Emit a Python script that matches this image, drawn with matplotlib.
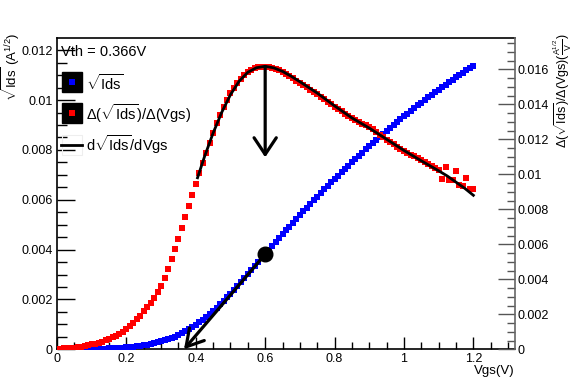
import numpy as np
import matplotlib
matplotlib.use("Agg")
import matplotlib.pyplot as plt
from matplotlib.ticker import MultipleLocator, FuncFormatter
from matplotlib.patches import Rectangle
from matplotlib.lines import Line2D

plt.rcParams['font.family'] = ['Liberation Sans', 'DejaVu Sans']
plt.rcParams['mathtext.fontset'] = 'custom'
plt.rcParams['mathtext.rm'] = 'Liberation Sans'
plt.rcParams['mathtext.it'] = 'Liberation Sans:italic'
plt.rcParams['mathtext.bf'] = 'Liberation Sans:bold'

# ---------------- data ----------------
vgs = np.round(np.arange(0, 121) * 0.01, 2)   # Vgs sampling grid 0 .. 1.2 V

sqrt_ids = [
    0.0, 0.0000004, 0.0000009, 0.0000015, 0.0000023, 0.0000033, 0.0000045, 0.000006, 0.0000079, 0.0000102,
    0.000013, 0.0000163, 0.0000201, 0.0000245, 0.0000296, 0.0000355, 0.0000423, 0.00005, 0.0000588, 0.0000688,
    0.0000802, 0.0000933, 0.0001083, 0.0001254, 0.0001447, 0.0001663, 0.0001903, 0.0002169, 0.0002463, 0.0002788,
    0.000315, 0.000356, 0.000402, 0.000454, 0.000511, 0.000574, 0.000643, 0.000719, 0.000801, 0.000889,
    0.000984, 0.001085, 0.001192, 0.001304, 0.001422, 0.001546, 0.001675, 0.001809, 0.001947, 0.00209,
    0.002236, 0.002385, 0.002537, 0.002692, 0.002849, 0.003007, 0.003167, 0.003327, 0.003488, 0.00365,
    0.003811, 0.003972, 0.004133, 0.004293, 0.004453, 0.004612, 0.00477, 0.004926, 0.005081, 0.005234,
    0.005386, 0.005537, 0.005687, 0.005835, 0.005982, 0.006128, 0.006272, 0.006415, 0.006556, 0.006696,
    0.006834, 0.006971, 0.007107, 0.007242, 0.007375, 0.007507, 0.007638, 0.007768, 0.007897, 0.008025,
    0.008152, 0.008278, 0.008402, 0.008525, 0.008646, 0.008766, 0.008884, 0.009001, 0.009117, 0.009232,
    0.009345, 0.009457, 0.009568, 0.009678, 0.009787, 0.009895, 0.010002, 0.010108, 0.010213, 0.010317,
    0.01042, 0.010517, 0.010621, 0.010718, 0.010815, 0.010917, 0.011011, 0.011104, 0.011202, 0.011293,
    0.011384,
]

dsqrt_dvgs = [
    0.00003, 0.00004, 0.00005, 0.00006, 0.00008, 0.0001, 0.00012, 0.00015, 0.00019, 0.00023,
    0.00028, 0.00033, 0.00038, 0.00044, 0.00051, 0.00059, 0.00068, 0.00077, 0.00088, 0.001,
    0.00114, 0.00131, 0.0015, 0.00171, 0.00193, 0.00216, 0.0024, 0.00266, 0.00294, 0.00325,
    0.00362, 0.0041, 0.00461, 0.00516, 0.00573, 0.00632, 0.00692, 0.00754, 0.00818, 0.00882,
    0.00945, 0.01006, 0.01066, 0.01124, 0.01181, 0.01236, 0.01292, 0.0134, 0.01384, 0.01425,
    0.01462, 0.01494, 0.01522, 0.01546, 0.01566, 0.01583, 0.01596, 0.01606, 0.01612, 0.01615,
    0.01615, 0.01613, 0.01609, 0.01603, 0.01596, 0.01587, 0.01575, 0.01562, 0.01549, 0.01535,
    0.01522, 0.01509, 0.01496, 0.01483, 0.0147, 0.01457, 0.01443, 0.01428, 0.01413, 0.01399,
    0.01385, 0.01372, 0.01359, 0.01346, 0.01333, 0.0132, 0.01309, 0.01298, 0.01288, 0.01279,
    0.0127, 0.01257, 0.01242, 0.01227, 0.01212, 0.01197, 0.01184, 0.01171, 0.01158, 0.01146,
    0.01134, 0.01123, 0.01113, 0.01103, 0.01093, 0.01083, 0.01072, 0.01061, 0.0105, 0.01038,
    0.01025, 0.00971, 0.0104, 0.00967, 0.0097, 0.01019, 0.0094, 0.00935, 0.0098, 0.00914,
    0.00914,
]

fit_x = [0.405, 0.425, 0.45, 0.475, 0.50, 0.525, 0.55, 0.575, 0.60, 0.625, 0.65, 0.675, 0.70,
         0.75, 0.80, 0.85, 0.90, 0.95, 1.00, 1.05, 1.10, 1.125, 1.15, 1.175, 1.20]
fit_y = [0.0098, 0.0110, 0.01236, 0.01355, 0.01455, 0.01532, 0.01583, 0.01609, 0.01617, 0.01608,
         0.01588, 0.01560, 0.01529, 0.01464, 0.01391, 0.01322, 0.01264, 0.01200, 0.01136, 0.01077,
         0.01020, 0.00990, 0.00955, 0.00920, 0.00880]

vth = 0.366
v_peak = 0.60
arrow_tip_right = 0.01097

# ---------------- figure ----------------
W, H = 573, 388
fig = plt.figure(figsize=(W / 100, H / 100), dpi=100)
ax = fig.add_axes([57 / W, 1 - 349.3 / H, (515 - 57) / W, (349.3 - 38.3) / H])
ax2 = ax.twinx()

ax.set_xlim(0, 1.32)
ax.set_ylim(0, 0.01248)
ax2.set_ylim(0, 0.01777)

fmt = FuncFormatter(lambda v, p: ('%g' % round(v, 6)))

ax.xaxis.set_major_locator(MultipleLocator(0.2))
ax.xaxis.set_minor_locator(MultipleLocator(0.05))
ax.yaxis.set_major_locator(MultipleLocator(0.002))
ax.yaxis.set_minor_locator(MultipleLocator(0.0005))
ax2.yaxis.set_major_locator(MultipleLocator(0.002))
ax2.yaxis.set_minor_locator(MultipleLocator(0.0005))
ax.xaxis.set_major_formatter(fmt)
ax.yaxis.set_major_formatter(fmt)
ax2.yaxis.set_major_formatter(fmt)

ax.tick_params(axis='x', which='major', direction='in', length=9, width=1, labelsize=9, pad=3, top=False)
ax.tick_params(axis='x', which='minor', direction='in', length=5, width=1, top=False)
ax.tick_params(axis='y', which='major', direction='in', length=13, width=1, labelsize=9, pad=3, right=False)
ax.tick_params(axis='y', which='minor', direction='in', length=7, width=1, right=False)
ax2.tick_params(axis='y', which='major', direction='in', length=12, width=1, labelsize=9, pad=2,
                color='#555555', left=False)
ax2.tick_params(axis='y', which='minor', direction='in', length=6, width=1, color='#555555', left=False)

for s in ['left', 'bottom', 'top']:
    ax.spines[s].set_linewidth(1.2)
    ax.spines[s].set_color('black')
ax.spines['right'].set_visible(False)
ax2.spines['left'].set_visible(False)
ax2.spines['top'].set_visible(False)
ax2.spines['bottom'].set_visible(False)
ax2.spines['right'].set_color('#666666')
ax2.spines['right'].set_linewidth(1.2)

# data
ax.plot(vgs, sqrt_ids, 's', color='#0000ff', ms=4.2, mec='#0000ff', mew=0, zorder=3)
ax2.plot(vgs, dsqrt_dvgs, 's', color='#ff0000', ms=4.2, mec='#ff0000', mew=0, zorder=3)
ax2.plot(fit_x, fit_y, '-', color='black', lw=2.0, zorder=4)

# tangent point and arrows
i_pk = int(np.argmin(np.abs(vgs - v_peak)))
ax.plot([vgs[i_pk]], [sqrt_ids[i_pk]], 'o', color='black', ms=10.5, zorder=6)
ax.annotate('', xy=(vth, 0), xytext=(vgs[i_pk], sqrt_ids[i_pk]),
            arrowprops=dict(arrowstyle='->,head_length=0.6,head_width=0.35', lw=2.3,
                            color='black', mutation_scale=20, shrinkA=0, shrinkB=0),
            zorder=6, annotation_clip=False)
ax2.annotate('', xy=(vgs[i_pk], arrow_tip_right), xytext=(vgs[i_pk], dsqrt_dvgs[i_pk]),
             arrowprops=dict(arrowstyle='->,head_length=0.6,head_width=0.4', lw=2.3,
                             color='black', mutation_scale=20, shrinkA=0, shrinkB=0),
             zorder=6)

# labels
sq = r'$\sqrt{\mathrm{Ids}}$'
fig.text(11 / W, 1 - 33 / H, sq + r' (A$^{1/2}$)', rotation=90, ha='center', va='top', fontsize=9.5)
fig.text(563 / W, 1 - 33 / H, r'$\Delta$(' + sq + r')/$\Delta$(Vgs)($\frac{\mathrm{A}^{1/2}}{\mathrm{V}}$)',
         rotation=90, ha='center', va='top', fontsize=9)
fig.text(515 / W, 1 - 371 / H, 'Vgs(V)', ha='right', va='center', fontsize=9.5)

# legend (drawn manually, ROOT style)
fig.text(61 / W, 1 - 52 / H, 'Vth = 0.366V', ha='left', va='center', fontsize=10.5)
tf = fig.transFigure
fig.patches.append(Rectangle((62 / W, 1 - 92 / H), 20 / W, 20 / H, transform=tf, facecolor='black',
                             edgecolor='black', zorder=5))
fig.patches.append(Rectangle((62 / W, 1 - 123 / H), 20 / W, 20 / H, transform=tf, facecolor='black',
                             edgecolor='black', zorder=5))
fig.patches.append(Rectangle((62 / W, 1 - 155 / H), 20 / W, 20 / H, transform=tf, facecolor='none',
                             edgecolor='#eeeeee', lw=0.8, zorder=5))
fig.lines.append(Line2D([72 / W], [1 - 82 / H], transform=tf, marker='s', color='#0000ff', ms=4.2, mew=0, zorder=6))
fig.lines.append(Line2D([72 / W], [1 - 113 / H], transform=tf, marker='s', color='#ff0000', ms=4.2, mew=0, zorder=6))
fig.lines.append(Line2D([61 / W, 82 / W], [1 - 145 / H, 1 - 145 / H], transform=tf, color='black', lw=2.0, zorder=6))
fig.text(86 / W, 1 - 83 / H, sq, ha='left', va='center', fontsize=10.5)
fig.text(86 / W, 1 - 114 / H, r'$\Delta$(' + sq + r')/$\Delta$(Vgs)', ha='left', va='center', fontsize=10.5)
fig.text(86 / W, 1 - 145 / H, r'd' + sq + r'/dVgs', ha='left', va='center', fontsize=10.5)

fig.savefig('out.png', dpi=100)
